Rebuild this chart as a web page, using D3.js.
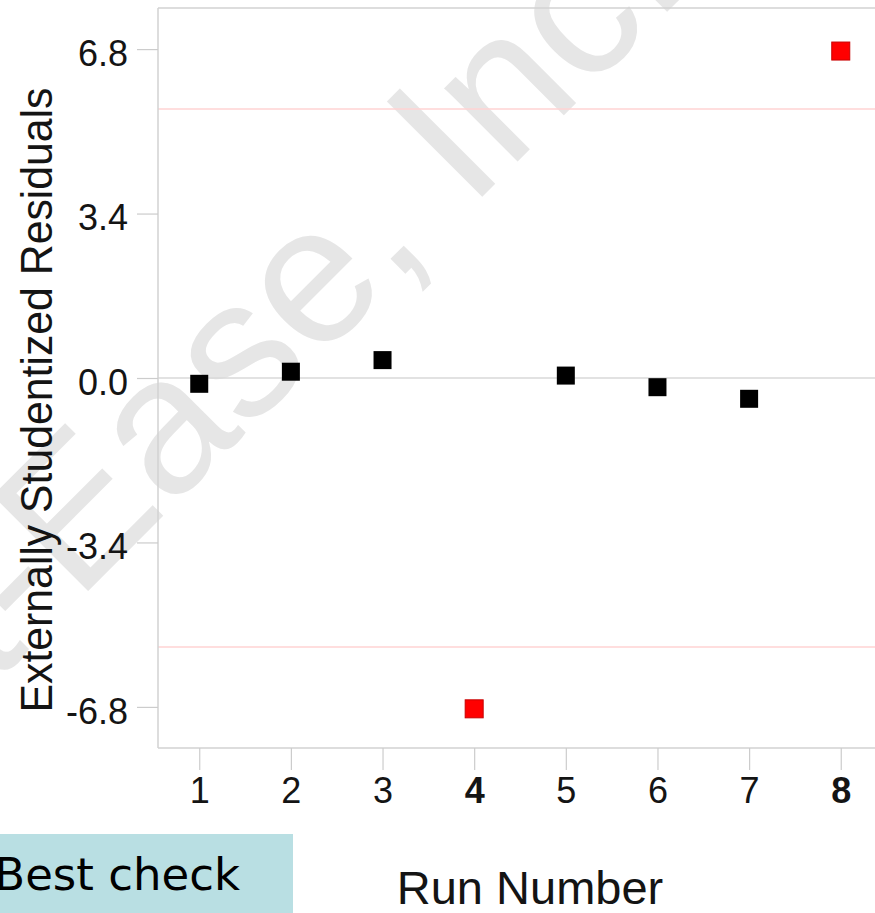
<!DOCTYPE html>
<html>
<head>
<meta charset="utf-8">
<script src="https://cdn.jsdelivr.net/npm/d3@7"></script>
<style>
  html, body { margin: 0; padding: 0; background: #fff; overflow: hidden; }
  svg { display: block; }
</style>
</head>
<body>
<svg id="chart" width="875" height="913"></svg>
<script>
// Externally studentized residuals by run order
const runs = [1, 2, 3, 4, 5, 6, 7, 8];
const residuals = [-0.12, 0.13, 0.37, -6.84, 0.05, -0.19, -0.43, 6.76];
const flaggedRuns = [4, 8];
const yTickValues = [-6.8, -3.4, 0, 3.4, 6.8];
const limitValues = [-5.56, 5.56];
const yDomain = [-7.65, 7.65];
const xDomain = [0.55, 8.45];

const svg = d3.select("#chart");
const FONT = "'Liberation Sans', Arial, Helvetica, sans-serif";

const plot = { left: 158, top: 8, bottom: 748, right: 882 };

const x = d3.scaleLinear().domain(xDomain).range([plot.left, plot.right]);
const y = d3.scaleLinear().domain(yDomain).range([plot.bottom, plot.top]);

// Watermark
svg.append("text")
  .attr("transform", "translate(-216,895) rotate(-45)")
  .attr("font-family", FONT)
  .attr("font-size", 196)
  .attr("fill", "#e6e6e6")
  .text("Stat-Ease, Inc.");

// Limit lines
svg.append("g").selectAll("line")
  .data(limitValues)
  .join("line")
  .attr("x1", plot.left).attr("x2", plot.right)
  .attr("y1", d => y(d)).attr("y2", d => y(d))
  .attr("stroke", "#ffd3d3")
  .attr("stroke-width", 1.5);

// Zero reference line
svg.append("line")
  .attr("x1", plot.left).attr("x2", plot.right)
  .attr("y1", y(0)).attr("y2", y(0))
  .attr("stroke", "#d9d9d9")
  .attr("stroke-width", 1.5);

// Frame: top, left, bottom
const frame = svg.append("g").attr("stroke", "#d2d2d2").attr("stroke-width", 1.5);
frame.append("line").attr("x1", plot.left).attr("x2", plot.right).attr("y1", plot.top).attr("y2", plot.top);
frame.append("line").attr("x1", plot.left).attr("x2", plot.left).attr("y1", plot.top).attr("y2", plot.bottom);
frame.append("line").attr("x1", plot.left).attr("x2", plot.right).attr("y1", plot.bottom).attr("y2", plot.bottom);

// Y axis
const yAxis = svg.append("g")
  .attr("transform", `translate(${plot.left},0)`)
  .call(d3.axisLeft(y).tickValues(yTickValues).tickSize(21).tickPadding(9)
    .tickFormat(d => d.toFixed(1)));
yAxis.select(".domain").remove();
yAxis.selectAll(".tick line").attr("stroke", "#cccccc").attr("stroke-width", 1.2);
yAxis.selectAll(".tick text")
  .attr("font-family", FONT)
  .attr("font-size", 36)
  .attr("fill", "#141414")
  .attr("dy", "0.45em");

// X axis
const xAxis = svg.append("g")
  .attr("transform", `translate(0,${plot.bottom})`)
  .call(d3.axisBottom(x).tickValues(runs).tickSize(22).tickPadding(7)
    .tickFormat(d3.format("d")));
xAxis.select(".domain").remove();
xAxis.selectAll(".tick line").attr("stroke", "#cccccc").attr("stroke-width", 1.2);
xAxis.selectAll(".tick text")
  .attr("font-family", FONT)
  .attr("font-size", 36)
  .attr("fill", "#141414")
  .attr("font-weight", d => flaggedRuns.includes(d) ? "bold" : "normal");

// Points
const S = 18;
svg.append("g").selectAll("rect")
  .data(runs.map((r, i) => ({ run: r, value: residuals[i] })))
  .join("rect")
  .attr("x", d => x(d.run) - S / 2)
  .attr("y", d => y(d.value) - S / 2)
  .attr("width", S).attr("height", S)
  .attr("fill", d => flaggedRuns.includes(d.run) ? "#ff0000" : "#000000")
  .attr("stroke", d => flaggedRuns.includes(d.run) ? "#c80000" : "none")
  .attr("stroke-width", 1);

// Axis titles
svg.append("text")
  .attr("transform", "translate(52,400) rotate(-90)")
  .attr("text-anchor", "middle")
  .attr("font-family", FONT)
  .attr("font-size", 44)
  .attr("textLength", 625)
  .attr("lengthAdjust", "spacingAndGlyphs")
  .attr("fill", "#141414")
  .text("Externally Studentized Residuals");

svg.append("text")
  .attr("x", 530).attr("y", 904)
  .attr("text-anchor", "middle")
  .attr("font-family", FONT)
  .attr("font-size", 47)
  .attr("fill", "#141414")
  .text("Run Number");

// Caption box
svg.append("rect")
  .attr("x", 0).attr("y", 834)
  .attr("width", 293).attr("height", 79)
  .attr("fill", "#b9dfe3");
svg.append("text")
  .attr("x", 240).attr("y", 890)
  .attr("text-anchor", "end")
  .attr("font-family", "'DejaVu Sans', Verdana, sans-serif")
  .attr("font-size", 45)
  .attr("fill", "#000")
  .text("Best check");
</script>
</body>
</html>
